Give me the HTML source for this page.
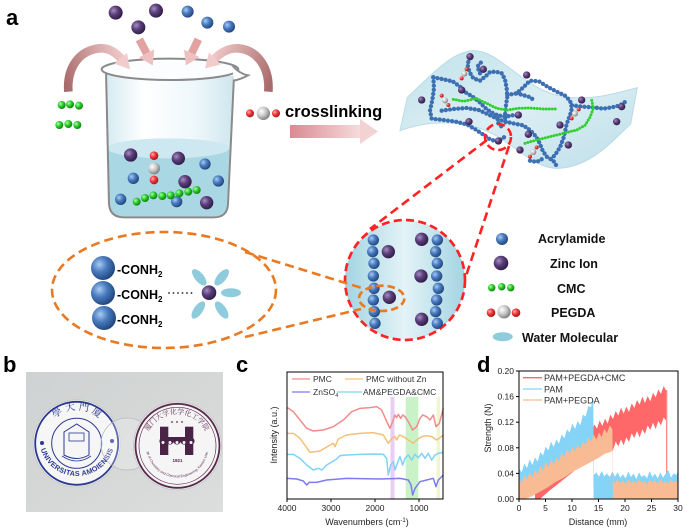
<!DOCTYPE html>
<html><head><meta charset="utf-8"><style>
html,body{margin:0;padding:0;background:#fff;}
svg{display:block;}
</style></head><body>
<svg width="690" height="528" viewBox="0 0 690 528" xmlns="http://www.w3.org/2000/svg" font-family="'Liberation Sans', Arial, sans-serif">
<defs>
<radialGradient id="gb" cx="0.35" cy="0.35" r="0.7"><stop offset="0" stop-color="#a9ccf2"/><stop offset="0.45" stop-color="#4a7cc0"/><stop offset="1" stop-color="#1f4379"/></radialGradient>
<radialGradient id="gp" cx="0.35" cy="0.35" r="0.7"><stop offset="0" stop-color="#a48fc0"/><stop offset="0.45" stop-color="#5b3f7a"/><stop offset="1" stop-color="#2e1a45"/></radialGradient>
<radialGradient id="gg" cx="0.35" cy="0.35" r="0.7"><stop offset="0" stop-color="#b0ffb0"/><stop offset="0.45" stop-color="#2fd02f"/><stop offset="1" stop-color="#0a7a0a"/></radialGradient>
<radialGradient id="gr" cx="0.35" cy="0.35" r="0.7"><stop offset="0" stop-color="#ffb0b0"/><stop offset="0.45" stop-color="#f03a3a"/><stop offset="1" stop-color="#a01515"/></radialGradient>
<radialGradient id="gw" cx="0.35" cy="0.35" r="0.7"><stop offset="0" stop-color="#ffffff"/><stop offset="0.5" stop-color="#c8c8c8"/><stop offset="1" stop-color="#7a7a7a"/></radialGradient>
<linearGradient id="glass" x1="0" y1="0" x2="1" y2="0"><stop offset="0" stop-color="#d6ebf2"/><stop offset="0.3" stop-color="#ffffff"/><stop offset="0.7" stop-color="#eef7fa"/><stop offset="1" stop-color="#cfe6ee"/></linearGradient>
<linearGradient id="arrL" gradientUnits="userSpaceOnUse" x1="205" y1="275" x2="390" y2="200"><stop offset="0" stop-color="#a86a6a"/><stop offset="1" stop-color="#f2cccc"/></linearGradient>
<linearGradient id="arrR" gradientUnits="userSpaceOnUse" x1="805" y1="275" x2="615" y2="200"><stop offset="0" stop-color="#a86a6a"/><stop offset="1" stop-color="#f2cccc"/></linearGradient>
<linearGradient id="arrS" x1="0" y1="0" x2="0" y2="1"><stop offset="0" stop-color="#d88f8f"/><stop offset="1" stop-color="#f5d2d2"/></linearGradient>
<linearGradient id="arrX" x1="0" y1="0" x2="1" y2="0"><stop offset="0" stop-color="#d98a92"/><stop offset="1" stop-color="#f6dcdc"/></linearGradient>
<linearGradient id="sheet" x1="0" y1="0" x2="1" y2="1"><stop offset="0" stop-color="#bfe0ea"/><stop offset="0.5" stop-color="#d9eef4"/><stop offset="1" stop-color="#bcdde8"/></linearGradient>
<linearGradient id="circ" x1="0" y1="0" x2="1" y2="0"><stop offset="0" stop-color="#a3d4e2"/><stop offset="0.5" stop-color="#e4f3f7"/><stop offset="1" stop-color="#a3d4e2"/></linearGradient>
<linearGradient id="photo" x1="0" y1="0" x2="1" y2="1"><stop offset="0" stop-color="#cfd2d2"/><stop offset="1" stop-color="#dcdddd"/></linearGradient>
<path id="arcLT" d="M44,443 A33,33 0 0 1 110,443"/>
<path id="arcLB" d="M39,438 A38,38 0 0 0 115,438"/>
<path id="arcRT" d="M145,446 A32,32 0 0 1 209,446"/>
<path id="arcRB" d="M147,452 A31,31 0 0 0 208,452"/>
</defs>

<!-- ============ Panel a ============ -->
<text x="6" y="25" font-size="22" font-weight="bold">a</text>

<g transform="scale(0.33333)">
  <!-- beaker body -->
  <path d="M318,212 L327,612 Q330,652 372,652 L642,652 Q682,652 684,612 L702,228 Z" fill="url(#glass)"/>
  <path d="M323,445 L327,612 Q330,649 372,649 L642,649 Q680,649 681,612 L688,445 Z" fill="#a9d7e4"/>
  <ellipse cx="505" cy="445" rx="183" ry="30" fill="#cde8f0"/>
  <path d="M318,212 L327,612 Q330,652 372,652 L642,652 Q682,652 684,612 L702,228" fill="none" stroke="#8a8a8a" stroke-width="6"/>
  <!-- balls in beaker -->
  <circle cx="392" cy="465" r="20" fill="url(#gp)"/>
  <circle cx="535" cy="475" r="20" fill="url(#gp)"/>
  <circle cx="555" cy="545" r="20" fill="url(#gp)"/>
  <circle cx="620" cy="608" r="20" fill="url(#gp)"/>
  <circle cx="615" cy="492" r="17" fill="url(#gb)"/>
  <circle cx="400" cy="535" r="17" fill="url(#gb)"/>
  <circle cx="655" cy="543" r="17" fill="url(#gb)"/>
  <circle cx="362" cy="598" r="17" fill="url(#gb)"/>
  <circle cx="530" cy="605" r="17" fill="url(#gb)"/>
  <circle cx="462" cy="467" r="13" fill="url(#gr)"/>
  <circle cx="462" cy="540" r="13" fill="url(#gr)"/>
  <circle cx="462" cy="505" r="18" fill="url(#gw)"/>
  <g fill="url(#gg)">
    <circle cx="410" cy="605" r="12"/><circle cx="435" cy="594" r="12"/><circle cx="460" cy="586" r="12"/><circle cx="487" cy="588" r="12"/><circle cx="512" cy="586" r="12"/><circle cx="538" cy="580" r="12"/><circle cx="565" cy="575" r="12"/><circle cx="590" cy="570" r="12"/>
  </g>
  <!-- rim -->
  <ellipse cx="510" cy="208" rx="205" ry="32" fill="#fbfdfe" stroke="#8a8a8a" stroke-width="6"/>
  <path d="M698,198 Q720,222 744,226 Q722,238 700,242" fill="#fbfdfe" stroke="#8a8a8a" stroke-width="6"/>
  <!-- top balls -->
  <circle cx="347" cy="38" r="21" fill="url(#gp)"/>
  <circle cx="468" cy="32" r="21" fill="url(#gp)"/>
  <circle cx="415" cy="82" r="21" fill="url(#gp)"/>
  <circle cx="563" cy="35" r="18" fill="url(#gb)"/>
  <circle cx="622" cy="68" r="18" fill="url(#gb)"/>
  <circle cx="687" cy="80" r="18" fill="url(#gb)"/>
  <!-- CMC left -->
  <g fill="url(#gg)">
    <circle cx="185" cy="315" r="12"/><circle cx="210" cy="313" r="12"/><circle cx="237" cy="317" r="12"/>
    <circle cx="178" cy="375" r="12"/><circle cx="205" cy="372" r="12"/><circle cx="232" cy="375" r="12"/>
  </g>
  <!-- PEGDA right -->
  <circle cx="750" cy="340" r="12" fill="url(#gr)"/>
  <circle cx="828" cy="340" r="12" fill="url(#gr)"/>
  <circle cx="790" cy="340" r="20" fill="url(#gw)"/>
  <!-- arrows -->
  <path d="M205,275 C200,200 240,150 300,145 C330,143 350,160 365,178" fill="none" stroke="url(#arrL)" stroke-width="26"/>
  <polygon points="343,191 381,159 390,208" fill="#f2cccc"/>
  <path d="M805,275 C810,200 770,150 715,145 C685,143 660,160 645,175" fill="none" stroke="url(#arrR)" stroke-width="26"/>
  <polygon points="663,193 627,157 615,205" fill="#f2cccc"/>
  <path d="M418,118 L440,160" stroke="#e2a2a2" stroke-width="24"/>
  <polygon points="417,172 463,148 458,196" fill="#efc0c0"/>
  <path d="M595,118 L575,160" stroke="#e2a2a2" stroke-width="24"/>
  <polygon points="598,171 552,149 558,196" fill="#efc0c0"/>
</g>

<!-- crosslinking -->
<text x="285" y="117" font-size="16.5" font-weight="bold">crosslinking</text>
<rect x="290" y="125" width="71" height="13" fill="url(#arrX)"/>
<polygon points="360,119 378,131.5 360,144" fill="#f3d2d4"/>

<!-- hydrogel network -->
<g transform="translate(390,40) scale(0.33333)">
  <path d="M30,272 L52,172 C110,120 180,35 250,32 C330,30 400,150 520,170 C600,183 680,160 742,143 L722,252 C670,300 600,385 500,385 C420,385 360,290 260,262 C170,238 90,250 30,272 Z" fill="url(#sheet)" stroke="#b5dbe6" stroke-width="3" opacity="0.95"/>
  <g fill="none" stroke-linecap="round" stroke-linejoin="round" stroke="#3d6fb3" stroke-width="13" stroke-dasharray="0 12.5">
    <path d="M240,55 L232,72 L238,95 L250,115 L270,122 L288,108 L300,96 L318,95 L335,100 L345,118 L350,145 L352,170 L348,195 L345,225 L347,255"/>
    <path d="M130,112 L160,118 L188,124 L210,140 L228,158 L248,170 L268,186 L286,204 L302,216 L322,226 L346,230 L368,226"/>
    <path d="M130,112 L132,145 L127,180 L120,212 L125,236 L160,240 L198,245 L232,254 L256,268 L280,284 L300,298 L322,305 L345,290"/>
    <path d="M155,212 L190,207 L230,204 L266,210 L292,222 L330,240 L368,250 L400,256 L422,272 L440,292 L450,312 L458,332 L470,350 L490,362 L500,378"/>
    <path d="M352,165 L380,160 L400,142 L420,122 L447,124 L472,140 L500,155 L524,166 L540,182 L546,204 L540,226 L530,252 L522,290 L510,322 L495,345 L478,362"/>
    <path d="M380,160 L402,166 L422,172 L432,182"/>
    <path d="M546,196 L578,200 L610,202 L640,206 L666,202 L690,196 L705,186"/>
    <path d="M420,362 L440,366 L462,354"/>
    <path d="M320,225 L325,250 L340,265"/>
    <path d="M270,100 L262,80 L275,65"/>
  </g>
  <g fill="none" stroke-linecap="round" stroke-linejoin="round" stroke="#2fd02f" stroke-width="9" stroke-dasharray="0 9">
    <path d="M190,178 L222,184 L258,175 L290,190 L320,205 L352,210 L385,205 L420,204 L460,207 L500,207"/>
    <path d="M405,310 L440,300 L480,290 L520,280 L560,270 L585,256 L600,232 L610,205 L604,175"/>
  </g>
  <g fill="url(#gp)">
    <circle cx="240" cy="50" r="11"/><circle cx="280" cy="88" r="11"/><circle cx="410" cy="105" r="11"/><circle cx="215" cy="150" r="11"/><circle cx="95" cy="180" r="11"/><circle cx="575" cy="180" r="11"/><circle cx="695" cy="200" r="11"/><circle cx="680" cy="245" r="11"/><circle cx="237" cy="245" r="11"/><circle cx="385" cy="225" r="11"/><circle cx="510" cy="255" r="11"/><circle cx="415" cy="283" r="11"/><circle cx="325" cy="303" r="11"/><circle cx="535" cy="315" r="11"/><circle cx="390" cy="330" r="11"/>
  </g>
  <g>
    <circle cx="230" cy="87" r="6" fill="url(#gr)"/><circle cx="215" cy="115" r="6" fill="url(#gr)"/><circle cx="223" cy="101" r="9" fill="url(#gw)"/>
    <circle cx="155" cy="167" r="6" fill="url(#gr)"/><circle cx="175" cy="195" r="6" fill="url(#gr)"/><circle cx="165" cy="181" r="9" fill="url(#gw)"/>
    <circle cx="566" cy="208" r="6" fill="url(#gr)"/><circle cx="545" cy="235" r="6" fill="url(#gr)"/><circle cx="555" cy="221" r="9" fill="url(#gw)"/>
    <circle cx="440" cy="322" r="6" fill="url(#gr)"/><circle cx="420" cy="350" r="6" fill="url(#gr)"/><circle cx="430" cy="336" r="9" fill="url(#gw)"/>
  </g>
</g>

<!-- red dashed zoom -->
<circle cx="498" cy="137" r="13" fill="none" stroke="#ff2222" stroke-width="2.6" stroke-dasharray="8 4"/>
<line x1="487" y1="140" x2="370" y2="229" stroke="#ff2222" stroke-width="2.6" stroke-dasharray="9 5"/>
<line x1="509" y1="146" x2="466" y2="276" stroke="#ff2222" stroke-width="2.6" stroke-dasharray="9 5"/>

<!-- big circle -->
<g transform="translate(340,200) scale(0.33333)">
  <circle cx="195" cy="240" r="180" fill="url(#circ)" stroke="#ff2222" stroke-width="8" stroke-dasharray="24 13"/>
  <g fill="url(#gb)">
    <circle cx="100" cy="120" r="17"/><circle cx="98" cy="155" r="17"/><circle cx="102" cy="190" r="17"/><circle cx="100" cy="228" r="17"/><circle cx="102" cy="265" r="17"/><circle cx="100" cy="300" r="17"/><circle cx="103" cy="335" r="17"/><circle cx="105" cy="370" r="17"/>
    <circle cx="292" cy="120" r="17"/><circle cx="287" cy="155" r="17"/><circle cx="292" cy="190" r="17"/><circle cx="290" cy="228" r="17"/><circle cx="295" cy="265" r="17"/><circle cx="290" cy="300" r="17"/><circle cx="287" cy="335" r="17"/><circle cx="292" cy="370" r="17"/>
  </g>
  <g fill="url(#gp)">
    <circle cx="145" cy="155" r="20"/><circle cx="148" cy="292" r="20"/><circle cx="245" cy="118" r="20"/><circle cx="243" cy="228" r="20"/><circle cx="245" cy="358" r="20"/>
  </g>
  <ellipse cx="125" cy="295" rx="68" ry="38" fill="none" stroke="#e97a22" stroke-width="8" stroke-dasharray="22 12"/>
</g>

<!-- orange zoom ellipse -->
<ellipse cx="164" cy="290" rx="112" ry="58" fill="none" stroke="#e97a22" stroke-width="2.6" stroke-dasharray="9 5"/>
<line x1="245" y1="252" x2="362" y2="288" stroke="#e97a22" stroke-width="2.6" stroke-dasharray="9 5"/>
<line x1="245" y1="337" x2="361" y2="309" stroke="#e97a22" stroke-width="2.6" stroke-dasharray="9 5"/>
<circle cx="103" cy="268" r="12" fill="url(#gb)"/>
<circle cx="103" cy="293" r="12" fill="url(#gb)"/>
<circle cx="104" cy="318" r="12" fill="url(#gb)"/>
<g font-size="12.5" font-weight="bold">
  <text x="117" y="274">-CONH<tspan font-size="8" dy="3">2</tspan></text>
  <text x="117" y="299">-CONH<tspan font-size="8" dy="3">2</tspan></text>
  <text x="117" y="324">-CONH<tspan font-size="8" dy="3">2</tspan></text>
</g>
<g fill="#222">
  <circle cx="169" cy="293" r="0.9"/><circle cx="173.5" cy="293" r="0.9"/><circle cx="178" cy="293" r="0.9"/><circle cx="182.5" cy="293" r="0.9"/><circle cx="187" cy="293" r="0.9"/><circle cx="191.5" cy="293" r="0.9"/>
</g>
<g fill="#8ecbdc">
  <ellipse cx="199.3" cy="277.3" rx="10" ry="4.5" transform="rotate(50 199.3 277.3)"/>
  <ellipse cx="221.7" cy="277.3" rx="10" ry="4.5" transform="rotate(-50 221.7 277.3)"/>
  <ellipse cx="231" cy="292.7" rx="10" ry="4.5"/>
  <ellipse cx="198.3" cy="310" rx="10" ry="4.5" transform="rotate(-55 198.3 310)"/>
  <ellipse cx="221.7" cy="310" rx="10" ry="4.5" transform="rotate(55 221.7 310)"/>
</g>
<circle cx="209" cy="292.7" r="7.3" fill="url(#gp)"/>

<!-- legend -->
<circle cx="502" cy="239" r="6" fill="url(#gb)"/>
<circle cx="501" cy="263" r="7.3" fill="url(#gp)"/>
<circle cx="491.7" cy="287.7" r="3.7" fill="url(#gg)"/><circle cx="501.7" cy="286.7" r="3.7" fill="url(#gg)"/><circle cx="510.7" cy="287.7" r="3.7" fill="url(#gg)"/>
<circle cx="491" cy="312.7" r="4.3" fill="url(#gr)"/><circle cx="516" cy="312.7" r="4.3" fill="url(#gr)"/><circle cx="504" cy="311.7" r="6.7" fill="url(#gw)"/>
<ellipse cx="502.7" cy="336.7" rx="10" ry="4.5" fill="#8ecbdc"/>
<g font-size="12.5" font-weight="bold" fill="#111">
  <text x="538" y="243">Acrylamide</text>
  <text x="550" y="268">Zinc Ion</text>
  <text x="557" y="293">CMC</text>
  <text x="551" y="317">PEGDA</text>
  <text x="522" y="342">Water Molecular</text>
</g>

<!-- ============ Panel b ============ -->
<text x="3" y="372" font-size="22" font-weight="bold">b</text>
<rect x="26" y="372" width="197" height="140" fill="url(#photo)"/>
<!-- left logo -->
<circle cx="76.7" cy="443.3" r="43.5" fill="#f6f6f6" stroke="#c4c6c6" stroke-width="0.8"/>
<circle cx="76.7" cy="443.3" r="41.5" fill="none" stroke="#2b3990" stroke-width="1.8"/>
<circle cx="76.7" cy="443.3" r="25" fill="none" stroke="#2b3990" stroke-width="1"/>
<text font-size="10" fill="#2b3990" font-family="'Liberation Sans','Noto Serif CJK SC','Noto Sans CJK SC',serif"><textPath href="#arcLT" startOffset="50%" text-anchor="middle">學 大 門 廈</textPath></text>
<text font-size="7.2" font-weight="bold" fill="#2b3990" letter-spacing="0.3"><textPath href="#arcLB" startOffset="50%" text-anchor="middle">UNIVERSITAS AMOIENSIS</textPath></text>
<circle cx="42" cy="443" r="2" fill="#2b3990"/><circle cx="112" cy="441" r="2" fill="#2b3990"/>
<path d="M64,432 L76.7,424 L89,432 L89,455 Q76.7,462 64,455 Z" fill="none" stroke="#2b3990" stroke-width="1"/>
<rect x="69" y="433" width="15" height="8" fill="none" stroke="#2b3990" stroke-width="0.8"/>
<path d="M62,456 Q76.7,466 91,456" fill="none" stroke="#2b3990" stroke-width="0.8"/>
<!-- clear lens -->
<circle cx="127" cy="444" r="26" fill="#ffffff" fill-opacity="0.25" stroke="#b8bcbe" stroke-width="0.8"/>
<!-- right logo -->
<circle cx="177.5" cy="445.8" r="44" fill="#f6f5f5" stroke="#c4c6c6" stroke-width="0.8"/>
<circle cx="177.5" cy="445.8" r="42" fill="none" stroke="#5a2a4e" stroke-width="1.8"/>
<circle cx="177.5" cy="445.8" r="38.5" fill="none" stroke="#5a2a4e" stroke-width="0.7"/>
<text font-size="7" fill="#5a2a4e" font-family="'Liberation Sans','Noto Serif CJK SC','Noto Sans CJK SC',serif"><textPath href="#arcRT" startOffset="50%" text-anchor="middle">厦门大学化学化工学院</textPath></text>
<text font-size="3.4" fill="#5a2a4e"><textPath href="#arcRB" startOffset="50%" text-anchor="middle">College of Chemistry and Chemical Engineering, Xiamen University</textPath></text>
<rect x="160" y="426.7" width="8.3" height="28.3" fill="#4a2446"/>
<rect x="185" y="426.7" width="8.3" height="28.3" fill="#4a2446"/>
<rect x="160" y="437" width="33" height="5" fill="#4a2446"/>
<g fill="#4a2446"><circle cx="163" cy="441" r="3.6"/><circle cx="170" cy="441" r="3.6"/><circle cx="177" cy="441" r="3.6"/><circle cx="184" cy="441" r="3.6"/><circle cx="191" cy="441" r="3.6"/></g>
<g fill="#f6f5f5"><circle cx="163" cy="442.5" r="1.5"/><circle cx="170" cy="442.5" r="1.5"/><circle cx="177" cy="442.5" r="1.5"/><circle cx="184" cy="442.5" r="1.5"/><circle cx="191" cy="442.5" r="1.5"/></g>
<g fill="#5a2a4e"><circle cx="172" cy="422" r="0.9"/><circle cx="177" cy="422" r="0.9"/><circle cx="182" cy="422" r="0.9"/></g>
<text x="177.5" y="462" font-size="4.5" font-weight="bold" fill="#4a2446" text-anchor="middle">1921</text>

<!-- ============ Panel c ============ -->
<text x="236" y="372" font-size="22" font-weight="bold">c</text>
<rect x="390.5" y="397" width="4" height="102" fill="#e8cdf5"/>
<rect x="405.7" y="397" width="12.6" height="102" fill="#c9f2c9"/>
<rect x="436.5" y="397" width="3.5" height="102" fill="#f0f7cf"/>
<g transform="translate(280,365) scale(0.33333)" fill="none" stroke-width="4.5" stroke-linejoin="round">
  <polyline stroke="#f28c8c" points="22,128 40,140 60,165 80,190 100,198 130,195 160,185 190,165 215,140 240,130 270,128 290,125 305,135 318,165 330,190 338,170 345,150 350,158 355,148 362,160 368,150 375,155 385,170 398,195 410,185 420,160 428,150 440,155 450,165 460,150 468,185 478,175 490,130"/>
  <polyline stroke="#f3c07a" points="22,205 40,205 60,220 90,262 120,258 150,240 160,235 165,245 175,222 200,210 240,205 280,203 310,210 325,235 335,220 345,215 350,225 358,210 370,215 385,225 400,235 410,225 425,215 440,212 455,215 470,225 480,218 490,210"/>
  <polyline stroke="#7fd3f5" points="22,268 40,268 60,280 80,300 100,315 115,310 125,315 140,300 170,282 180,272 200,270 240,268 280,267 310,268 320,280 325,330 332,300 340,290 345,315 352,295 360,275 368,300 375,280 385,270 395,285 405,268 415,278 425,265 435,280 445,265 455,285 465,270 475,265 490,262"/>
  <polyline stroke="#7b7cf0" points="22,340 50,342 70,348 80,360 88,352 110,352 140,345 200,340 300,342 360,340 385,345 393,360 398,390 405,370 420,350 440,345 460,340 468,365 475,345 490,330"/>
</g>
<rect x="287" y="372" width="156" height="127" fill="none" stroke="#000" stroke-width="1"/>
<g stroke="#000" stroke-width="1"><line x1="287" y1="499" x2="287" y2="502"/><line x1="331" y1="499" x2="331" y2="502"/><line x1="375" y1="499" x2="375" y2="502"/><line x1="419" y1="499" x2="419" y2="502"/></g>
<g font-size="8.5" fill="#333">
  <line x1="292" y1="379" x2="310" y2="379" stroke="#f28c8c" stroke-width="1.3"/>
  <text x="313" y="382">PMC</text>
  <line x1="345" y1="379" x2="363" y2="379" stroke="#f3c07a" stroke-width="1.3"/>
  <text x="366" y="382">PMC without Zn</text>
  <line x1="292" y1="392" x2="310" y2="392" stroke="#7b7cf0" stroke-width="1.3"/>
  <text x="313" y="395">ZnSO<tspan font-size="5.5" dy="2">4</tspan></text>
  <line x1="337" y1="392" x2="362" y2="392" stroke="#7fd3f5" stroke-width="1.3"/>
  <text x="363" y="395">AM&amp;PEGDA&amp;CMC</text>
</g>
<g font-size="8.5" fill="#222" text-anchor="middle">
  <text x="287" y="511">4000</text><text x="331" y="511">3000</text><text x="375" y="511">2000</text><text x="419" y="511">1000</text>
  <text x="367" y="525" font-size="9">Wavenumbers (cm<tspan font-size="6" dy="-3">-1</tspan><tspan dy="3">)</tspan></text>
  <text x="0" y="0" font-size="9" transform="translate(277,435) rotate(-90)">Intensity (a.u.)</text>
</g>

<!-- ============ Panel d ============ -->
<text x="477" y="372" font-size="22" font-weight="bold">d</text>
<g transform="translate(515,365) scale(0.33333)">
  <!-- red -->
  <polygon fill="#ff6868" points="60,380 100,330 150,275 200,225 230,203 238,178 246,191 254,166 262,183 270,161 278,176 286,149 294,162 302,138 310,152 318,128 326,146 334,125 342,141 350,115 358,129 366,105 374,119 382,95 390,114 398,93 406,109 414,83 422,97 430,73 438,87 446,63 454,78 456,78 456,171 446,157 438,181 430,168 422,192 414,173 406,195 398,181 390,207 382,193 374,217 366,198 358,219 350,205 342,231 334,217 326,241 318,223 310,244 302,230 294,256 280,252 230,280 200,300 150,340 100,380 75,402 60,402"/>
  <line x1="455" y1="75" x2="455" y2="345" stroke="#ff8a8a" stroke-width="4"/>
  <!-- blue -->
  <polygon fill="#85d3f7" points="12,310 20,322 28,296 36,309 44,283 52,300 60,277 68,290 76,261 84,272 92,245 100,256 108,230 116,246 124,223 132,236 140,208 148,220 156,193 164,203 172,176 180,192 188,168 196,181 204,149 212,155 220,123 228,127 232,105 235,105 236,330 244,322 252,335 260,318 268,334 276,325 284,336 292,320 300,335 308,322 316,338 324,328 332,340 340,320 348,336 356,326 364,342 372,322 380,336 388,330 396,340 404,318 412,336 420,326 428,340 436,322 444,338 452,326 460,315 468,338 476,325 484,330 488,320 488,400 236,400 234,265 200,290 150,322 100,352 60,375 12,392"/>
  <!-- orange -->
  <polygon fill="#f9bb93" points="12,342 20,354 28,332 36,344 44,322 52,338 60,315 68,328 76,303 84,316 92,291 100,306 108,283 116,299 124,277 132,290 140,264 148,277 156,253 164,266 172,244 180,260 188,239 196,252 204,228 212,241 220,217 228,230 236,208 244,224 252,203 260,216 268,192 276,205 284,181 292,192 294,350 300,352 308,344 316,355 324,346 332,357 340,343 348,354 356,347 364,356 372,342 380,353 388,348 396,358 404,344 412,352 420,346 428,356 436,343 444,354 452,348 460,357 468,342 476,353 484,347 488,352 488,402 294,402 292,258 284,262 270,266 250,279 230,290 200,306 170,322 150,336 120,352 100,366 70,383 50,394 30,402 12,402"/>
</g>
<rect x="519" y="371" width="159" height="128" fill="none" stroke="#000" stroke-width="1"/>
<g stroke="#000" stroke-width="1">
  <line x1="516" y1="499" x2="519" y2="499"/><line x1="516" y1="473.4" x2="519" y2="473.4"/><line x1="516" y1="447.8" x2="519" y2="447.8"/><line x1="516" y1="422.2" x2="519" y2="422.2"/><line x1="516" y1="396.6" x2="519" y2="396.6"/><line x1="516" y1="371" x2="519" y2="371"/>
  <line x1="519" y1="499" x2="519" y2="502"/><line x1="545.5" y1="499" x2="545.5" y2="502"/><line x1="572" y1="499" x2="572" y2="502"/><line x1="598.5" y1="499" x2="598.5" y2="502"/><line x1="625" y1="499" x2="625" y2="502"/><line x1="651.5" y1="499" x2="651.5" y2="502"/><line x1="678" y1="499" x2="678" y2="502"/>
</g>
<g font-size="8.5" fill="#222" text-anchor="end">
  <text x="514" y="502">0.00</text><text x="514" y="476.4">0.04</text><text x="514" y="450.8">0.08</text><text x="514" y="425.2">0.12</text><text x="514" y="399.6">0.16</text><text x="514" y="374">0.20</text>
</g>
<g font-size="8.5" fill="#222" text-anchor="middle">
  <text x="519" y="511">0</text><text x="545.5" y="511">5</text><text x="572" y="511">10</text><text x="598.5" y="511">15</text><text x="625" y="511">20</text><text x="651.5" y="511">25</text><text x="678" y="511">30</text>
  <text x="598" y="525" font-size="9">Distance (mm)</text>
  <text x="0" y="0" font-size="9" transform="translate(491,428) rotate(-90)">Strength (N)</text>
</g>
<g font-size="9" fill="#333">
  <line x1="523" y1="377.7" x2="542" y2="377.7" stroke="#ff6868" stroke-width="1.3"/>
  <text x="544" y="381">PAM+PEGDA+CMC</text>
  <line x1="523" y1="389" x2="542" y2="389" stroke="#85d3f7" stroke-width="1.3"/>
  <text x="544" y="392.3">PAM</text>
  <line x1="523" y1="400" x2="542" y2="400" stroke="#f9bb93" stroke-width="1.3"/>
  <text x="544" y="403.3">PAM+PEGDA</text>
</g>
</svg>
</body></html>
